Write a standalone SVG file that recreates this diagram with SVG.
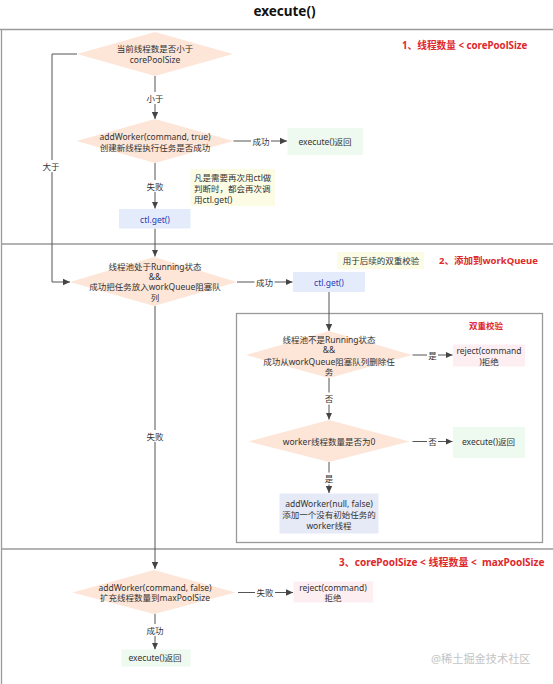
<svg xmlns="http://www.w3.org/2000/svg" width="553" height="684" viewBox="0 0 553 684">
<defs>
<marker id="ah" markerUnits="userSpaceOnUse" markerWidth="8" markerHeight="8" viewBox="0 0 8 8" refX="7" refY="4" orient="auto">
<path d="M0,0.8 L7,4 L0,7.2 Z" fill="#444"/>
</marker>
</defs>
<style>
text{font-family:"Noto Sans","Noto Sans CJK SC",sans-serif;font-size:8.5px;fill:#333;dominant-baseline:central;text-anchor:middle}
.title{font-size:13.5px;font-weight:bold;fill:#111}
.red{font-weight:bold;fill:#e0282c;font-size:9.5px;text-anchor:start;white-space:pre}
.frame{stroke:#9a9a9a;stroke-width:1.3;fill:none}
.dia{fill:#fde6d8}
.green{fill:#eef9ef}
.blue{fill:#e4ebfb}
.blue text{fill:#2b3ab5}
.note{fill:#fcfce4}
.pink{fill:#fdeef1}
.gray{fill:#e6eaf7}
.con{stroke:#555;stroke-width:1;fill:none}
.lbg{fill:#fff}
.wm{fill:#c4c4c4;font-size:11.2px;text-anchor:start}
</style>

<text class="title" x="284.5" y="11">execute()</text>

<g id="frame">
<line class="frame" x1="0" y1="29.5" x2="553" y2="29.5"/>
<line class="frame" x1="1.5" y1="29.5" x2="1.5" y2="684"/>
<line class="frame" x1="1.5" y1="244" x2="553" y2="244"/>
<line class="frame" x1="1.5" y1="549" x2="553" y2="549"/>
<rect class="frame" x="236.5" y="313.5" width="306" height="229" stroke-width="1"/>
</g>

<g id="section-labels">
<text class="red" x="402" y="45.5" style="font-size:9.7px">1、线程数量 &lt; corePoolSize</text>
<text class="red" x="439" y="260">2、添加到workQueue</text>
<text class="red" x="339" y="561.5" style="font-size:10px" xml:space="preserve">3、corePoolSize &lt; 线程数量 &lt;  maxPoolSize</text>
<text class="red" x="469" y="325" style="font-size:8.5px">双重校验</text>
</g>

<g id="connectors">
<path class="con" d="M155,76 V119" marker-end="url(#ah)"/>
<path class="con" d="M77,54 H52 V282 H70" marker-end="url(#ah)"/>
<path class="con" d="M233.5,141 H287" marker-end="url(#ah)"/>
<path class="con" d="M155,163 V208.5" marker-end="url(#ah)"/>
<path class="con" d="M155,228.5 V256.5" marker-end="url(#ah)"/>
<path class="con" d="M237,282 H292.5" marker-end="url(#ah)"/>
<path class="con" d="M329,292 V331" marker-end="url(#ah)"/>
<path class="con" d="M412.5,355 H452.5" marker-end="url(#ah)"/>
<path class="con" d="M329,378 V419.5" marker-end="url(#ah)"/>
<path class="con" d="M412.5,441.5 H452.5" marker-end="url(#ah)"/>
<path class="con" d="M329,462 V493" marker-end="url(#ah)"/>
<path class="con" d="M155,306 V569" marker-end="url(#ah)"/>
<path class="con" d="M238,592.5 H293" marker-end="url(#ah)"/>
<path class="con" d="M155,613.5 V649.5" marker-end="url(#ah)"/>
<rect class="lbg" x="145" y="92" width="20" height="12"/><text x="155" y="98">小于</text>
<rect class="lbg" x="41" y="160" width="20" height="12"/><text x="51" y="166">大于</text>
<rect class="lbg" x="251" y="135" width="20" height="12"/><text x="261" y="141">成功</text>
<rect class="lbg" x="145" y="180" width="20" height="12"/><text x="155" y="186">失败</text>
<rect class="lbg" x="254.5" y="276" width="20" height="12"/><text x="264.5" y="282">成功</text>
<rect class="lbg" x="427" y="349" width="11" height="12"/><text x="432.5" y="355">是</text>
<rect class="lbg" x="323.5" y="392.5" width="11" height="12"/><text x="329" y="398.5">否</text>
<rect class="lbg" x="427" y="435.5" width="11" height="12"/><text x="432.5" y="441.5">否</text>
<rect class="lbg" x="323.5" y="472.5" width="11" height="12"/><text x="329" y="478.5">是</text>
<rect class="lbg" x="145" y="430" width="20" height="12"/><text x="155" y="436">失败</text>
<rect class="lbg" x="255" y="586.5" width="20" height="12"/><text x="265" y="592.5">失败</text>
<rect class="lbg" x="145" y="624" width="20" height="12"/><text x="155" y="630">成功</text>
</g>

<g id="n-core-check">
<polygon class="dia" points="155,32 233,54 155,76 77,54"/>
<text x="155" y="48.5">当前线程数是否小于</text>
<text x="155" y="59.5">corePoolSize</text>
</g>

<g id="n-addworker-true">
<polygon class="dia" points="155,119 233.5,141 155,163 76.5,141"/>
<text x="155" y="136">addWorker(command, true)</text>
<text x="155" y="147">创建新线程执行任务是否成功</text>
</g>

<g id="n-exec-return-1">
<rect class="green" x="287.5" y="128" width="75.5" height="27"/>
<text x="325" y="141.5">execute()返回</text>
</g>

<g id="n-ctl-get-1" class="blue">
<rect x="119" y="209" width="71.5" height="19.5"/>
<text x="155" y="219">ctl.get()</text>
</g>

<g id="n-note-ctl">
<rect class="note" x="190.5" y="169" width="84.5" height="37"/>
<text x="194" y="177.5" style="text-anchor:start">凡是需要再次用ctl做</text>
<text x="194" y="188.5" style="text-anchor:start">判断时，都会再次调</text>
<text x="194" y="199.5" style="text-anchor:start">用ctl.get()</text>
</g>

<g id="n-running-offer">
<polygon class="dia" points="154,257 237,282 154,306 70,282"/>
<text x="155" y="266.5">线程池处于Running状态</text>
<text x="155" y="276.5">&amp;&amp;</text>
<text x="155" y="286.5">成功把任务放入workQueue阻塞队</text>
<text x="155" y="297">列</text>
</g>

<g id="n-ctl-get-2" class="blue">
<rect x="293" y="272" width="72" height="20"/>
<text x="329" y="282">ctl.get()</text>
</g>

<g id="n-note-double">
<rect class="note" x="337" y="252" width="87" height="17"/>
<text x="381" y="260.5">用于后续的双重校验</text>
</g>

<g id="n-not-running-remove">
<polygon class="dia" points="329,331 412,355 329,378 246,355"/>
<text x="329" y="339.5">线程池不是Running状态</text>
<text x="329" y="349.5">&amp;&amp;</text>
<text x="329" y="361">成功从workQueue阻塞队列删除任</text>
<text x="329" y="371.5">务</text>
</g>

<g id="n-reject-2">
<rect class="pink" x="453" y="344.5" width="72" height="22"/>
<text x="489" y="350">reject(command</text>
<text x="489" y="361">)拒绝</text>
</g>

<g id="n-worker-zero">
<polygon class="dia" points="329,420 409.5,441.5 329,462 248.5,441.5"/>
<text x="329" y="441.5">worker线程数量是否为0</text>
</g>

<g id="n-exec-return-2">
<rect class="green" x="453" y="427" width="72" height="31"/>
<text x="488.5" y="441.5">execute()返回</text>
</g>

<g id="n-addworker-null">
<rect class="gray" x="279.5" y="493.5" width="99" height="40"/>
<text x="329" y="503.5">addWorker(null, false)</text>
<text x="329" y="514.5">添加一个没有初始任务的</text>
<text x="329" y="525">worker线程</text>
</g>

<g id="n-addworker-false">
<polygon class="dia" points="154,570 235.5,592.5 154,614 72.5,592.5"/>
<text x="155" y="587">addWorker(command, false)</text>
<text x="155" y="597.5">扩充线程数量到maxPoolSize</text>
</g>

<g id="n-reject-3">
<rect class="pink" x="293.5" y="581.5" width="79.5" height="21"/>
<text x="333" y="587">reject(command)</text>
<text x="333" y="597.5">拒绝</text>
</g>

<g id="n-exec-return-3">
<rect class="green" x="121.5" y="649.5" width="69" height="17"/>
<text x="155" y="657.5">execute()返回</text>
</g>

<text class="wm" x="431" y="658.5">@稀土掘金技术社区</text>
</svg>
